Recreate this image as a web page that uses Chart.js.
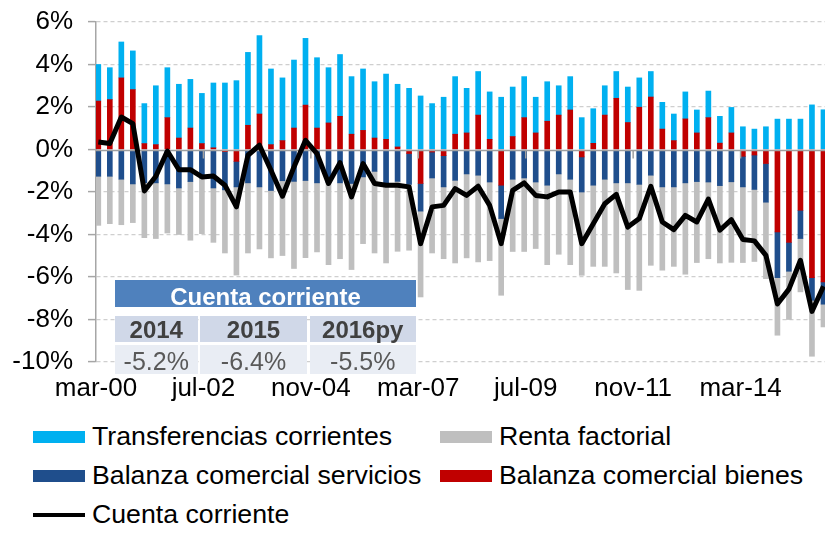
<!DOCTYPE html>
<html><head><meta charset="utf-8">
<script src="https://cdn.jsdelivr.net/npm/chart.js@4.4.1/dist/chart.umd.min.js"></script>
<style>
html,body{margin:0;padding:0;background:#fff;}
#wrap{position:relative;width:827px;height:533px;overflow:hidden;font-family:"Liberation Sans",Arial,sans-serif;}
#c{position:absolute;left:0;top:0;}
.cell{position:absolute;}
.txt{position:absolute;left:0;right:0;text-align:center;line-height:1.117;white-space:nowrap;}
.lbox{position:absolute;}
.ltxt{position:absolute;font-size:26.7px;line-height:1.117;color:#000;white-space:nowrap;}
</style></head><body>
<div id="wrap"><canvas id="c" width="827" height="405"></canvas><div id="tbl"></div><div id="legend"></div></div>
<script>
// Quarterly categories (mar-00 ... dic-15)
const categories = ['mar-00','jun-00','sep-00','dic-00','mar-01','jun-01','sep-01','dic-01','mar-02','jun-02','sep-02','dic-02',
'mar-03','jun-03','sep-03','dic-03','mar-04','jun-04','sep-04','dic-04','mar-05','jun-05','sep-05','dic-05',
'mar-06','jun-06','sep-06','dic-06','mar-07','jun-07','sep-07','dic-07','mar-08','jun-08','sep-08','dic-08',
'mar-09','jun-09','sep-09','dic-09','mar-10','jun-10','sep-10','dic-10','mar-11','jun-11','sep-11','dic-11',
'mar-12','jun-12','sep-12','dic-12','mar-13','jun-13','sep-13','dic-13','mar-14','jun-14','sep-14','dic-14',
'mar-15','jun-15','sep-15','dic-15'];
const tickLabels = ['mar-00','jul-02','nov-04','mar-07','jul-09','nov-11','mar-14'];
const monthsPerTick = 28;
const monthsPerCategory = 3;

const bienes = [2.28,2.35,3.37,2.82,0.28,0.23,1.5,0.54,1.01,0.28,0.08,-0.1,-0.56,1.14,1.67,0.23,0.42,1.01,2.09,1.01,1.25,1.56,0.72,0.9,
0.54,0.48,0.12,-0.19,-1.6,-0.12,-0.29,0.72,0.78,1.62,0.48,-1.68,0.61,1.5,0.78,1.33,1.62,1.86,-0.35,0.29,1.62,2.41,1.27,1.99,
2.47,0.96,0.42,1.44,0.78,1.5,0.3,0.78,-0.32,-0.26,-0.66,-3.88,-4.37,-2.86,-6.03,-6.23];
const servicios = [-1.26,-1.26,-1.4,-1.62,-1.56,-1.57,-1.62,-1.81,-1.51,-1.34,-1.81,-1.8,-1.2,-1.57,-1.76,-1.93,-1.47,-1.5,-1.46,-1.57,-1.55,-1.57,-1.6,-1.29,
-1.03,-1.57,-1.5,-1.45,-1.3,-1.22,-1.47,-1.45,-1.15,-1.21,-1.53,-1.57,-1.4,-1.34,-1.53,-1.68,-1.15,-1.4,-1.65,-1.68,-1.4,-1.57,-1.57,-1.64,
-1.21,-1.76,-1.76,-1.57,-1.51,-1.53,-1.7,-1.52,-1.44,-1.62,-1.82,-2.15,-1.36,-1.33,-1.07,-1.05];
const transferencias = [1.72,1.5,1.69,1.82,1.88,2.77,2.35,2.53,2.29,2.36,3.05,3.13,3.24,3.43,3.69,3.56,2.95,3.2,3.14,3.31,2.6,2.91,2.71,2.89,
2.65,3.07,2.95,2.88,2.52,2.16,2.46,2.71,2.1,2.05,2.23,2.46,2.33,1.93,1.68,1.86,1.38,1.57,1.5,1.63,1.38,1.26,1.67,1.38,
1.2,1.26,1.25,1.27,1.08,1.25,1.26,1.2,1.07,0.96,1.07,1.43,1.43,1.43,2.1,1.87];
const renta = [-2.31,-2.23,-2.14,-1.82,-2.59,-2.62,-2.31,-2.19,-2.76,-2.62,-2.56,-2.97,-4.15,-3.3,-2.92,-3.17,-3.52,-4.1,-3.63,-3.25,-3.87,-3.57,-4.05,-3.14,
-3.84,-3.77,-3.29,-3.1,-4.04,-3.53,-3.38,-3.89,-3.95,-4.08,-3.7,-3.61,-3.4,-3.46,-3.13,-3.74,-3.78,-4.02,-3.92,-3.82,-4.1,-4.24,-5.02,-4.99,
-4.24,-3.92,-3.74,-4.3,-3.81,-3.61,-3.64,-3.79,-3.56,-3.39,-3.6,-2.71,-2.27,-2.51,-2.63,-1.07];
const cuentaCorriente = [0.35,0.28,1.53,1.22,-1.95,-1.26,-0.07,-0.95,-0.95,-1.29,-1.25,-1.68,-2.7,-0.27,0.2,-0.98,-2.2,-0.82,0.43,-0.19,-1.6,-0.62,-2.23,-0.66,
-1.6,-1.68,-1.68,-1.76,-4.43,-2.7,-2.63,-1.84,-2.16,-1.73,-2.63,-4.43,-1.92,-1.57,-2.16,-2.23,-2.0,-2.0,-4.43,-3.49,-2.55,-2.11,-3.65,-3.25,
-1.73,-3.41,-3.77,-3.1,-3.41,-2.33,-3.8,-3.3,-4.24,-4.3,-4.98,-7.27,-6.57,-5.21,-7.62,-6.44];

const tableTitle = 'Cuenta corriente';
const tableYears = ['2014','2015','2016py'];
const tableValues = ['-5.2%','-6.4%','-5.5%'];

const colors = {bienes:'#c00000', servicios:'#1f4e8c', transferencias:'#00b0f0', renta:'#bfbfbf', cuenta:'#000000'};

// month offset of each quarterly category from mar-00 (bar placed mid-month)
const toXY = arr => arr.map((v,i)=>({x: i*monthsPerCategory + 0.6, y: v}));

const zeroAxis = {
  id:'zeroAxis',
  beforeDatasetDraw(chart, args){
    if (args.index !== 0) return;
    const {ctx, chartArea:a, scales:{x,y}} = chart;
    const y0 = Math.round(y.getPixelForValue(0)) + 0.5;
    ctx.save();
    ctx.strokeStyle = '#a0a0a0'; ctx.lineWidth = 1.5; ctx.setLineDash([]);
    ctx.beginPath(); ctx.moveTo(a.left, y0); ctx.lineTo(a.right, y0);
    x.ticks.forEach(t=>{ const px = x.getPixelForValue(t.value); if (px > a.left + 2){ ctx.moveTo(px, y0); ctx.lineTo(px, y0 + 8);} });
    ctx.stroke(); ctx.restore();
  }
};

Chart.defaults.font.family = '"Liberation Sans", Arial, sans-serif';
Chart.defaults.color = '#000';

new Chart(document.getElementById('c'), {
  type:'bar',
  data:{datasets:[
    {type:'line', label:'Cuenta corriente', data:toXY(cuentaCorriente), borderColor:colors.cuenta, backgroundColor:colors.cuenta, borderWidth:5, pointRadius:0, tension:0, borderJoinStyle:'round', order:0},
    {label:'Balanza comercial bienes', data:toXY(bienes), backgroundColor:colors.bienes, stack:'s', order:1, barThickness:5},
    {label:'Balanza comercial servicios', data:toXY(servicios), backgroundColor:colors.servicios, stack:'s', order:1, barThickness:5},
    {label:'Transferencias corrientes', data:toXY(transferencias), backgroundColor:colors.transferencias, stack:'s', order:1, barThickness:5},
    {label:'Renta factorial', data:toXY(renta), backgroundColor:colors.renta, stack:'s', order:1, barThickness:5}
  ]},
  options:{
    responsive:false, animation:false, devicePixelRatio:1,
    layout:{padding:{top:22, right:2, left:0, bottom:0}},
    plugins:{legend:{display:false}, tooltip:{enabled:false}},
    scales:{
      x:{type:'linear', min:0, max:190, stacked:true, offset:false,
        grid:{display:false}, border:{display:false},
        afterBuildTicks: s => { s.ticks = tickLabels.map((l,i)=>({value:i*monthsPerTick})); },
        ticks:{autoSkip:false, maxRotation:0, font:{size:26}, color:'#000', padding:3,
          callback: v => tickLabels[Math.round(v/monthsPerTick)]},
        afterFit: s => { s.height = 43; s.paddingLeft = 0; s.paddingRight = 0; }
      },
      y:{min:-10, max:6, stacked:true,
        ticks:{stepSize:2, font:{size:26}, color:'#000', padding:15, callback: v => v + '%'},
        grid:{color: c => (c.tick && c.tick.value === 0) ? 'rgba(0,0,0,0)' : '#cfcfcf', lineWidth:1.2,
          drawTicks:true, tickLength:8, tickColor:'#a6a6a6', tickWidth:1.5, tickBorderDash:[]},
        border:{display:true, color:'#a6a6a6', width:1.5, dash:[4,3]},
        afterFit: s => { s.width = 96; s.paddingTop = 0; s.paddingBottom = 0; }
      }
    }
  },
  plugins:[zeroAxis]
});

// Overlay table
const tbl = document.getElementById('tbl');
function cell(left, top, w, h, bg, text, size, weight, color, baseline){
  const d = document.createElement('div'); d.className='cell';
  Object.assign(d.style,{left:left+'px', top:top+'px', width:w+'px', height:h+'px', background:bg});
  const t = document.createElement('div'); t.className='txt'; t.textContent = text;
  Object.assign(t.style,{top:(baseline - top - 0.905*size)+'px', fontSize:size+'px', fontWeight:weight, color:color});
  d.appendChild(t); tbl.appendChild(d);
}
cell(115, 280, 301, 27, '#4f81bd', tableTitle, 24, 'bold', '#ffffff', 306);
const colX = [115, 200, 309.5], colW = [82.5, 107, 106.5];
tableYears.forEach((y,i)=> cell(colX[i], 315.5, colW[i], 26.5, '#d0d8e8', y, 24, 'bold', '#404040', 338.5));
tableValues.forEach((v,i)=> cell(colX[i], 345, colW[i], 29, '#e9edf4', v, 25, 'normal', '#595959', 371));

// HTML legend (two columns like the original)
const legendItems = [
  {label:'Transferencias corrientes', color:colors.transferencias, kind:'box', col:0, row:0},
  {label:'Renta factorial', color:colors.renta, kind:'box', col:1, row:0},
  {label:'Balanza comercial servicios', color:colors.servicios, kind:'box', col:0, row:1},
  {label:'Balanza comercial bienes', color:colors.bienes, kind:'box', col:1, row:1},
  {label:'Cuenta corriente', color:colors.cuenta, kind:'line', col:0, row:2}
];
const lg = document.getElementById('legend');
const colLeft = [33, 440], rowMid = [437, 476, 515];
legendItems.forEach(it=>{
  const b = document.createElement('div'); b.className='lbox';
  const h = it.kind === 'line' ? 4.5 : 12;
  Object.assign(b.style,{left:colLeft[it.col]+'px', top:(rowMid[it.row]-h/2)+'px', width:'52px', height:h+'px', background:it.color});
  lg.appendChild(b);
  const t = document.createElement('div'); t.className='ltxt'; t.textContent = it.label;
  Object.assign(t.style,{left:(colLeft[it.col]+59)+'px', top:(rowMid[it.row] + 9.6 - 0.905*26.7)+'px'});
  lg.appendChild(t);
});
</script>
</body></html>
